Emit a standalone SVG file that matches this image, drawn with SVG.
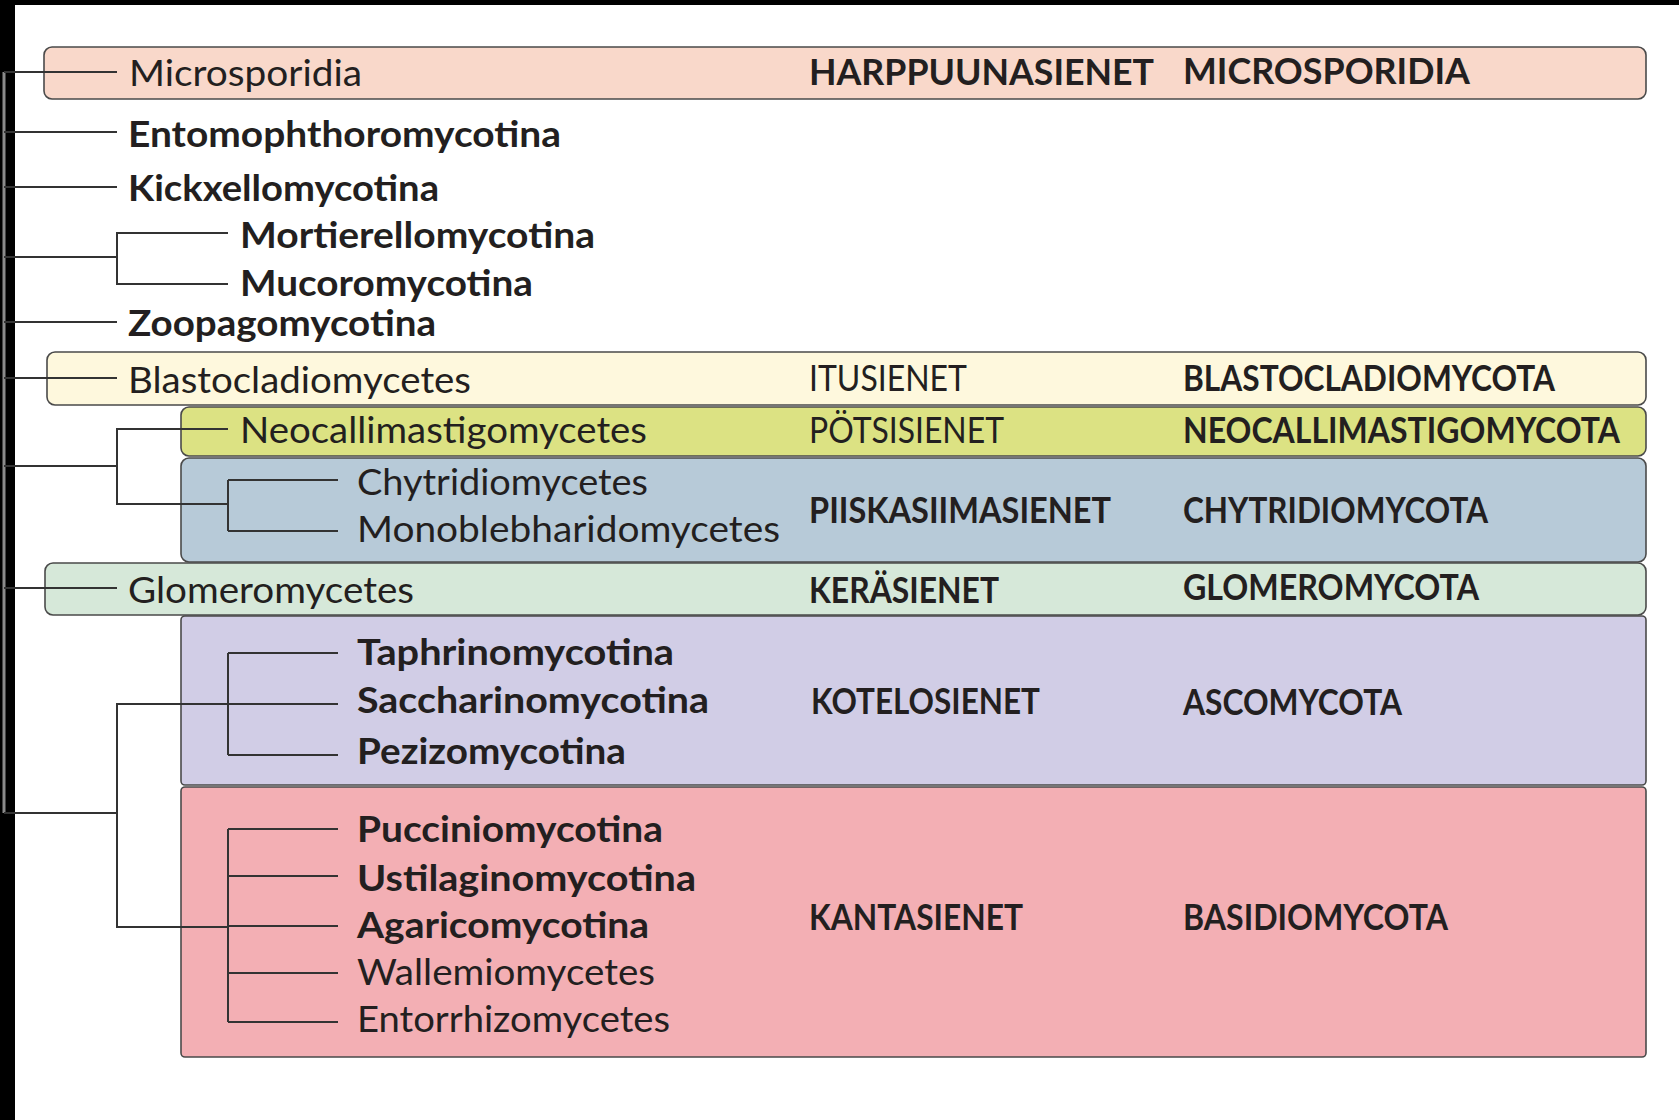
<svg xmlns="http://www.w3.org/2000/svg" width="1679" height="1120" viewBox="0 0 1679 1120">
<style>
.box{stroke:#4a4a4a;stroke-width:1.6}
.t{font-family:Lato,"Open Sans","Liberation Sans",sans-serif;font-size:36px;fill:#231f20}
.b{font-weight:700}
.l{font-weight:400}
.ln{fill:none;stroke:#333;stroke-width:2}
</style>
<rect x="0" y="0" width="1679" height="1120" fill="#fff"/>
<rect x="0" y="0" width="1679" height="5" fill="#000"/>
<rect x="0" y="0" width="15" height="1120" fill="#000"/>

<g id="microsporidia">
<rect class="box" x="44" y="47" width="1602" height="52" rx="8" fill="#F9D8CA"/>
<text class="t" x="129" y="86" textLength="233" lengthAdjust="spacingAndGlyphs">Microsporidia</text>
<text class="t b" x="809" y="85" textLength="345" lengthAdjust="spacingAndGlyphs">HARPPUUNASIENET</text>
<text class="t b" x="1183" y="84" textLength="287" lengthAdjust="spacingAndGlyphs">MICROSPORIDIA</text>
</g>
<g id="entomophthoromycotina"><text class="t b" x="128" y="147" textLength="433" lengthAdjust="spacingAndGlyphs">Entomophthoromycotina</text></g>
<g id="kickxellomycotina"><text class="t b" x="128" y="201" textLength="311" lengthAdjust="spacingAndGlyphs">Kickxellomycotina</text></g>
<g id="mortierellomycotina"><text class="t b" x="240" y="248" textLength="355" lengthAdjust="spacingAndGlyphs">Mortierellomycotina</text></g>
<g id="mucoromycotina"><text class="t b" x="240" y="296" textLength="293" lengthAdjust="spacingAndGlyphs">Mucoromycotina</text></g>
<g id="zoopagomycotina"><text class="t b" x="128" y="336" textLength="308" lengthAdjust="spacingAndGlyphs">Zoopagomycotina</text></g>

<g id="blastocladiomycota">
<rect class="box" x="47" y="352" width="1599" height="53" rx="8" fill="#FEF8DD"/>
<text class="t" x="128" y="393" textLength="343" lengthAdjust="spacingAndGlyphs">Blastocladiomycetes</text>
<text class="t l" x="809" y="391" textLength="158" lengthAdjust="spacingAndGlyphs">ITUSIENET</text>
<text class="t b" x="1183" y="391" textLength="372" lengthAdjust="spacingAndGlyphs">BLASTOCLADIOMYCOTA</text>
</g>

<g id="neocallimastigomycota">
<rect class="box" x="181" y="407" width="1465" height="49" rx="8" fill="#DCE283"/>
<text class="t" x="240" y="443" textLength="407" lengthAdjust="spacingAndGlyphs">Neocallimastigomycetes</text>
<text class="t l" x="809" y="443" textLength="195" lengthAdjust="spacingAndGlyphs">PÖTSISIENET</text>
<text class="t b" x="1183" y="443" textLength="437" lengthAdjust="spacingAndGlyphs">NEOCALLIMASTIGOMYCOTA</text>
</g>

<g id="chytridiomycota">
<rect class="box" x="181" y="458" width="1465" height="104" rx="8" fill="#B7CAD8"/>
<text class="t" x="357" y="495" textLength="291" lengthAdjust="spacingAndGlyphs">Chytridiomycetes</text>
<text class="t" x="357" y="542" textLength="423" lengthAdjust="spacingAndGlyphs">Monoblebharidomycetes</text>
<text class="t b" x="809" y="523" textLength="302" lengthAdjust="spacingAndGlyphs">PIISKASIIMASIENET</text>
<text class="t b" x="1183" y="523" textLength="305" lengthAdjust="spacingAndGlyphs">CHYTRIDIOMYCOTA</text>
</g>

<g id="glomeromycota">
<rect class="box" x="45" y="563" width="1601" height="52" rx="8" fill="#D6E8D9"/>
<text class="t" x="128" y="603" textLength="286" lengthAdjust="spacingAndGlyphs">Glomeromycetes</text>
<text class="t b" x="809" y="603" textLength="190" lengthAdjust="spacingAndGlyphs">KERÄSIENET</text>
<text class="t b" x="1183" y="600" textLength="296" lengthAdjust="spacingAndGlyphs">GLOMEROMYCOTA</text>
</g>

<g id="ascomycota">
<rect class="box" x="181" y="616" width="1465" height="169" rx="4" fill="#D1CDE6"/>
<text class="t b" x="357" y="665" textLength="317" lengthAdjust="spacingAndGlyphs">Taphrinomycotina</text>
<text class="t b" x="357" y="713" textLength="352" lengthAdjust="spacingAndGlyphs">Saccharinomycotina</text>
<text class="t b" x="357" y="764" textLength="269" lengthAdjust="spacingAndGlyphs">Pezizomycotina</text>
<text class="t b" x="811" y="714" textLength="229" lengthAdjust="spacingAndGlyphs">KOTELOSIENET</text>
<text class="t b" x="1183" y="715" textLength="219" lengthAdjust="spacingAndGlyphs">ASCOMYCOTA</text>
</g>

<g id="basidiomycota">
<rect class="box" x="181" y="787" width="1465" height="270" rx="4" fill="#F3AFB4"/>
<text class="t b" x="357" y="842" textLength="306" lengthAdjust="spacingAndGlyphs">Pucciniomycotina</text>
<text class="t b" x="357" y="891" textLength="339" lengthAdjust="spacingAndGlyphs">Ustilaginomycotina</text>
<text class="t b" x="357" y="938" textLength="292" lengthAdjust="spacingAndGlyphs">Agaricomycotina</text>
<text class="t" x="357" y="985" textLength="298" lengthAdjust="spacingAndGlyphs">Wallemiomycetes</text>
<text class="t" x="357" y="1032" textLength="313" lengthAdjust="spacingAndGlyphs">Entorrhizomycetes</text>
<text class="t b" x="809" y="930" textLength="214" lengthAdjust="spacingAndGlyphs">KANTASIENET</text>
<text class="t b" x="1183" y="930" textLength="265" lengthAdjust="spacingAndGlyphs">BASIDIOMYCOTA</text>
</g>

<g id="connectors">
<path d="M4,72 V813" fill="none" stroke="#8a8a8a" stroke-width="3"/>
<path class="ln" d="M4,72 H117 M4,132 H117 M4,187 H117 M4,257 H117 M4,322 H117 M4,378 H117 M4,466 H117 M4,588 H117 M4,813 H117"/>
<path class="ln" d="M228,233 H117 V284 H228"/>
<path class="ln" d="M228,429 H117 V504 H228 M228,480 V531 M228,480 H338 M228,531 H338"/>
<path class="ln" d="M228,704 H117 V927 H228"/>
<path class="ln" d="M228,653 V755 M228,653 H338 M228,704 H338 M228,755 H338"/>
<path class="ln" d="M228,829 V1022 M228,829 H338 M228,876 H338 M228,926 H338 M228,973 H338 M228,1022 H338"/>
</g>
</svg>
